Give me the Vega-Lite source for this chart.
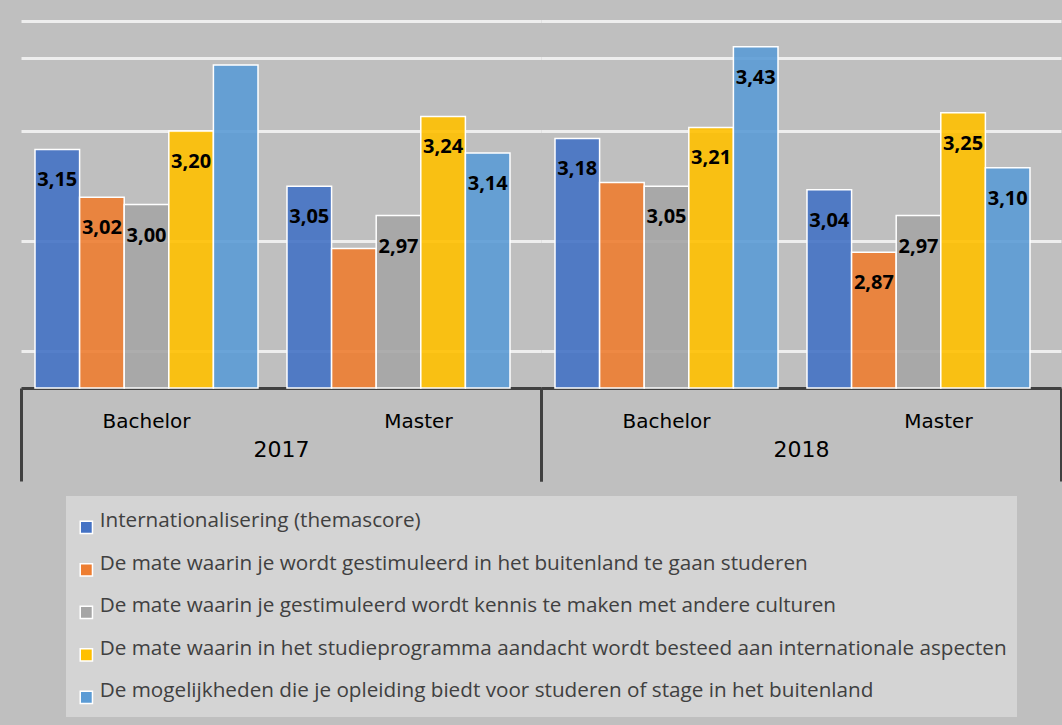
{
  "$schema": "https://vega.github.io/schema/vega-lite/v6.json",
  "background": "#bfbfbf",
  "padding": {"left": 19, "top": 21, "right": 1, "bottom": 8},
  "data": {"values": [
    {"year": "2017", "level": "Bachelor", "series": "Internationalisering (themascore)", "value": 3.15, "label": "3,15"},
    {"year": "2017", "level": "Bachelor", "series": "De mate waarin je wordt gestimuleerd in het buitenland te gaan studeren", "value": 3.02, "label": "3,02"},
    {"year": "2017", "level": "Bachelor", "series": "De mate waarin je gestimuleerd wordt kennis te maken met andere culturen", "value": 3.00, "label": "3,00"},
    {"year": "2017", "level": "Bachelor", "series": "De mate waarin in het studieprogramma aandacht wordt besteed aan internationale aspecten", "value": 3.20, "label": "3,20"},
    {"year": "2017", "level": "Bachelor", "series": "De mogelijkheden die je opleiding biedt voor studeren of stage in het buitenland", "value": 3.38, "label": ""},
    {"year": "2017", "level": "Master", "series": "Internationalisering (themascore)", "value": 3.05, "label": "3,05"},
    {"year": "2017", "level": "Master", "series": "De mate waarin je wordt gestimuleerd in het buitenland te gaan studeren", "value": 2.88, "label": ""},
    {"year": "2017", "level": "Master", "series": "De mate waarin je gestimuleerd wordt kennis te maken met andere culturen", "value": 2.97, "label": "2,97"},
    {"year": "2017", "level": "Master", "series": "De mate waarin in het studieprogramma aandacht wordt besteed aan internationale aspecten", "value": 3.24, "label": "3,24"},
    {"year": "2017", "level": "Master", "series": "De mogelijkheden die je opleiding biedt voor studeren of stage in het buitenland", "value": 3.14, "label": "3,14"},
    {"year": "2018", "level": "Bachelor", "series": "Internationalisering (themascore)", "value": 3.18, "label": "3,18"},
    {"year": "2018", "level": "Bachelor", "series": "De mate waarin je wordt gestimuleerd in het buitenland te gaan studeren", "value": 3.06, "label": ""},
    {"year": "2018", "level": "Bachelor", "series": "De mate waarin je gestimuleerd wordt kennis te maken met andere culturen", "value": 3.05, "label": "3,05"},
    {"year": "2018", "level": "Bachelor", "series": "De mate waarin in het studieprogramma aandacht wordt besteed aan internationale aspecten", "value": 3.21, "label": "3,21"},
    {"year": "2018", "level": "Bachelor", "series": "De mogelijkheden die je opleiding biedt voor studeren of stage in het buitenland", "value": 3.43, "label": "3,43"},
    {"year": "2018", "level": "Master", "series": "Internationalisering (themascore)", "value": 3.04, "label": "3,04"},
    {"year": "2018", "level": "Master", "series": "De mate waarin je wordt gestimuleerd in het buitenland te gaan studeren", "value": 2.87, "label": "2,87"},
    {"year": "2018", "level": "Master", "series": "De mate waarin je gestimuleerd wordt kennis te maken met andere culturen", "value": 2.97, "label": "2,97"},
    {"year": "2018", "level": "Master", "series": "De mate waarin in het studieprogramma aandacht wordt besteed aan internationale aspecten", "value": 3.25, "label": "3,25"},
    {"year": "2018", "level": "Master", "series": "De mogelijkheden die je opleiding biedt voor studeren of stage in het buitenland", "value": 3.10, "label": "3,10"}
  ]},
  "spacing": 0,
  "bounds": "flush",
  "hconcat": [
    {
      "width": 520, "height": 367,
      "transform": [{"filter": "datum.year == '2017'"}],
      "layer": [
        {"layer": [
          {"mark": {"type": "bar", "fillOpacity": 0.9, "stroke": "white", "strokeWidth": 1.5},
           "encoding": {
             "x": {"field": "level", "type": "nominal", "sort": ["Bachelor", "Master"],
                   "scale": {"paddingInner": 0.115, "paddingOuter": 0.0893, "align": 0.311},
                   "axis": {"orient": "bottom", "title": null, "ticks": false, "domain": false, "grid": false, "labelAngle": 0, "labelFont": "DejaVu Sans", "labelFontSize": 20, "labelColor": "#000000", "labelPadding": 23,
                            "labelOffset": {"condition": {"test": "datum.value == 'Master'", "value": 20}, "value": 0}}},
             "xOffset": {"field": "series", "type": "nominal", "sort": ["Internationalisering (themascore)", "De mate waarin je wordt gestimuleerd in het buitenland te gaan studeren", "De mate waarin je gestimuleerd wordt kennis te maken met andere culturen", "De mate waarin in het studieprogramma aandacht wordt besteed aan internationale aspecten", "De mogelijkheden die je opleiding biedt voor studeren of stage in het buitenland"],
                         "scale": {"paddingInner": 0, "paddingOuter": 0}},
             "y": {"field": "value", "type": "quantitative", "scale": {"domain": [2.5, 3.5], "zero": false, "nice": false, "clamp": true},
                   "axis": {"title": null, "labels": false, "ticks": false, "domain": false, "grid": true, "values": [2.6, 2.9, 3.2, 3.4, 3.5], "gridColor": "#eeeeee", "gridWidth": 3, "gridOpacity": 1, "minExtent": 0, "maxExtent": 0}},
             "color": {"field": "series", "type": "nominal",
                       "scale": {"domain": ["Internationalisering (themascore)", "De mate waarin je wordt gestimuleerd in het buitenland te gaan studeren", "De mate waarin je gestimuleerd wordt kennis te maken met andere culturen", "De mate waarin in het studieprogramma aandacht wordt besteed aan internationale aspecten", "De mogelijkheden die je opleiding biedt voor studeren of stage in het buitenland"],
                                 "range": ["#4472C4", "#ED7D31", "#A5A5A5", "#FFC000", "#5B9BD5"]},
                       "legend": {"title": " ", "titleFontSize": 10, "titlePadding": 1, "orient": "none", "legendX": 45, "legendY": 475, "direction": "vertical", "fillColor": "#d4d4d4", "padding": 10, "symbolType": "square", "symbolSize": 150, "symbolStrokeColor": "white", "symbolStrokeWidth": 1.5, "symbolOpacity": 1, "labelFont": "Open Sans", "labelFontSize": 20.7, "labelColor": "#404040", "labelLimit": 0, "labelOffset": 3, "rowPadding": 15.5, "labelBaseline": "alphabetic"}}
           }},
          {"mark": {"type": "text", "font": "Open Sans", "fontWeight": "bold", "fontSize": 20, "baseline": "alphabetic", "dy": 37, "color": "#000000"},
           "encoding": {
             "x": {"field": "level", "type": "nominal", "sort": ["Bachelor", "Master"]},
             "xOffset": {"field": "series", "type": "nominal", "sort": ["Internationalisering (themascore)", "De mate waarin je wordt gestimuleerd in het buitenland te gaan studeren", "De mate waarin je gestimuleerd wordt kennis te maken met andere culturen", "De mate waarin in het studieprogramma aandacht wordt besteed aan internationale aspecten", "De mogelijkheden die je opleiding biedt voor studeren of stage in het buitenland"]},
             "y": {"field": "value", "type": "quantitative"},
             "text": {"field": "label"}
           }}
        ]},
        {"mark": {"type": "tick", "opacity": 0},
         "encoding": {
           "x": {"field": "year", "type": "nominal", "scale": {"paddingInner": 0, "paddingOuter": 0},
                 "axis": {"orient": "bottom", "title": null, "grid": false, "labelAngle": 0, "tickBand": "extent", "tickSize": 93, "tickWidth": 3, "tickColor": "#404040", "domainColor": "#404040", "domainWidth": 3, "labelFont": "DejaVu Sans", "labelFontSize": 22, "labelColor": "#000000", "labelPadding": -42}}
         }}
      ],
      "resolve": {"scale": {"x": "independent"}, "axis": {"x": "independent"}}
    },
    {
      "width": 520, "height": 367,
      "transform": [{"filter": "datum.year == '2018'"}],
      "layer": [
        {"layer": [
          {"mark": {"type": "bar", "fillOpacity": 0.9, "stroke": "white", "strokeWidth": 1.5},
           "encoding": {
             "x": {"field": "level", "type": "nominal", "sort": ["Bachelor", "Master"],
                   "scale": {"paddingInner": 0.115, "paddingOuter": 0.0893, "align": 0.311},
                   "axis": {"orient": "bottom", "title": null, "ticks": false, "domain": false, "grid": false, "labelAngle": 0, "labelFont": "DejaVu Sans", "labelFontSize": 20, "labelColor": "#000000", "labelPadding": 23,
                            "labelOffset": {"condition": {"test": "datum.value == 'Master'", "value": 20}, "value": 0}}},
             "xOffset": {"field": "series", "type": "nominal", "sort": ["Internationalisering (themascore)", "De mate waarin je wordt gestimuleerd in het buitenland te gaan studeren", "De mate waarin je gestimuleerd wordt kennis te maken met andere culturen", "De mate waarin in het studieprogramma aandacht wordt besteed aan internationale aspecten", "De mogelijkheden die je opleiding biedt voor studeren of stage in het buitenland"],
                         "scale": {"paddingInner": 0, "paddingOuter": 0}},
             "y": {"field": "value", "type": "quantitative", "scale": {"domain": [2.5, 3.5], "zero": false, "nice": false, "clamp": true},
                   "axis": {"title": null, "labels": false, "ticks": false, "domain": false, "grid": true, "values": [2.6, 2.9, 3.2, 3.4, 3.5], "gridColor": "#eeeeee", "gridWidth": 3, "gridOpacity": 1, "minExtent": 0, "maxExtent": 0}},
             "color": {"field": "series", "type": "nominal",
                       "scale": {"domain": ["Internationalisering (themascore)", "De mate waarin je wordt gestimuleerd in het buitenland te gaan studeren", "De mate waarin je gestimuleerd wordt kennis te maken met andere culturen", "De mate waarin in het studieprogramma aandacht wordt besteed aan internationale aspecten", "De mogelijkheden die je opleiding biedt voor studeren of stage in het buitenland"],
                                 "range": ["#4472C4", "#ED7D31", "#A5A5A5", "#FFC000", "#5B9BD5"]},
                       "legend": {"title": " ", "titleFontSize": 10, "titlePadding": 1, "orient": "none", "legendX": 45, "legendY": 475, "direction": "vertical", "fillColor": "#d4d4d4", "padding": 10, "symbolType": "square", "symbolSize": 150, "symbolStrokeColor": "white", "symbolStrokeWidth": 1.5, "symbolOpacity": 1, "labelFont": "Open Sans", "labelFontSize": 20.7, "labelColor": "#404040", "labelLimit": 0, "labelOffset": 3, "rowPadding": 15.5, "labelBaseline": "alphabetic"}}
           }},
          {"mark": {"type": "text", "font": "Open Sans", "fontWeight": "bold", "fontSize": 20, "baseline": "alphabetic", "dy": 37, "color": "#000000"},
           "encoding": {
             "x": {"field": "level", "type": "nominal", "sort": ["Bachelor", "Master"]},
             "xOffset": {"field": "series", "type": "nominal", "sort": ["Internationalisering (themascore)", "De mate waarin je wordt gestimuleerd in het buitenland te gaan studeren", "De mate waarin je gestimuleerd wordt kennis te maken met andere culturen", "De mate waarin in het studieprogramma aandacht wordt besteed aan internationale aspecten", "De mogelijkheden die je opleiding biedt voor studeren of stage in het buitenland"]},
             "y": {"field": "value", "type": "quantitative"},
             "text": {"field": "label"}
           }}
        ]},
        {"mark": {"type": "tick", "opacity": 0},
         "encoding": {
           "x": {"field": "year", "type": "nominal", "scale": {"paddingInner": 0, "paddingOuter": 0},
                 "axis": {"orient": "bottom", "title": null, "grid": false, "labelAngle": 0, "tickBand": "extent", "tickSize": 93, "tickWidth": 3, "tickColor": "#404040", "domainColor": "#404040", "domainWidth": 3, "labelFont": "DejaVu Sans", "labelFontSize": 22, "labelColor": "#000000", "labelPadding": -42}}
         }}
      ],
      "resolve": {"scale": {"x": "independent"}, "axis": {"x": "independent"}}
    }
  ],
  "config": {
    "view": {"stroke": null},
    "axisY": {"minExtent": 0, "maxExtent": 0},
    "font": "Open Sans"
  }
}
